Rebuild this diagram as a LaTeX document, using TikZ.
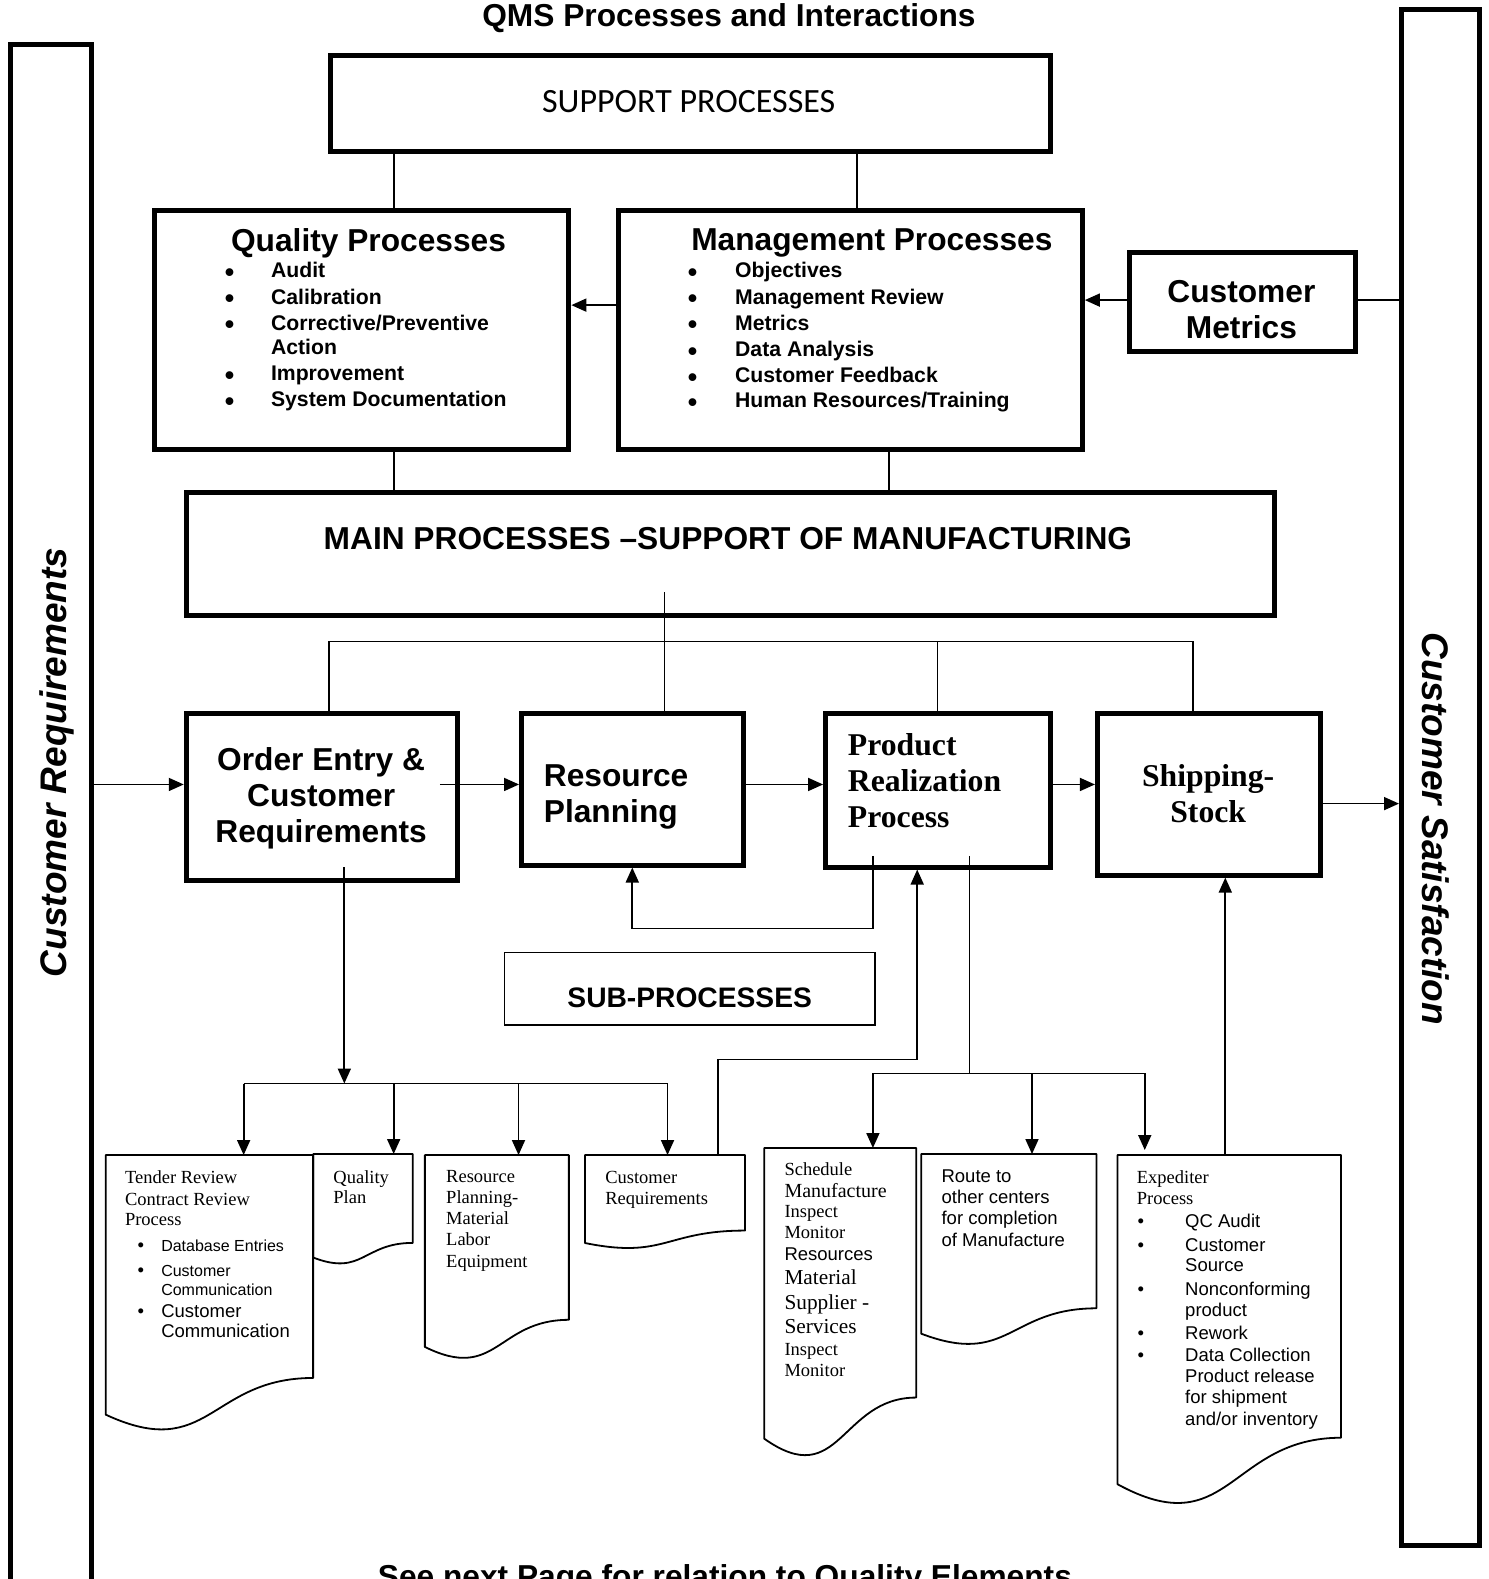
\documentclass[tikz,border=0pt]{standalone}
\usepackage{fontspec}
\setmainfont{Liberation Sans}
\newfontfamily\tnrfont{Liberation Serif}
\newfontfamily\calfont{Carlito}
\usetikzlibrary{arrows.meta,fit}
\newcommand\qmsdoc[5]{%
  \coordinate (#1) at ({(#2+#3)/2},#4);
  \draw[docline] (#2,#4) -- (#3,#4) -- (#3,{#4+0.802*#5})
    .. controls ({(#2+#3)/2},{#4+0.802*#5}) and ({(#2+#3)/2},{#4+1.107*#5}) ..
    (#2,{#4+0.934*#5}) -- cycle;}
\begin{document}
\begin{tikzpicture}[x=1.0068pt,y=-1.0070pt,
  bigbox/.style={draw, line width=5pt, inner sep=0pt, fit={#1}},
  thinbox/.style={draw, line width=1.6pt, inner sep=0pt, fit={#1}},
  conn/.style={line width=1.7pt},
  arr/.style={line width=1.7pt, -{Triangle[length=15pt,width=13pt]}},
  docline/.style={line width=1.8pt, line join=round},
  head/.style={font=\fontsize{31.7}{38}\selectfont\bfseries, inner sep=0pt, anchor=base},
  heads/.style={font=\tnrfont\fontsize{31.7}{38}\selectfont\bfseries, inner sep=0pt},
  side/.style={font=\fontsize{37}{44}\selectfont\bfseries\itshape, inner sep=0pt, anchor=base},
  item/.style={font=\fontsize{21.2}{25}\selectfont\bfseries, inner sep=0pt, anchor=base west},
  bul/.style={font=\fontsize{27}{30}\selectfont\bfseries, inner sep=0pt, anchor=base},
  dtr/.style={font=\tnrfont\fontsize{18.5}{22}\selectfont, inner sep=0pt, anchor=base west},
  dtrl/.style={font=\tnrfont\fontsize{21.3}{25}\selectfont, inner sep=0pt, anchor=base west},
  dar/.style={font=\fontsize{18.5}{22}\selectfont, inner sep=0pt, anchor=base west},
  dars/.style={font=\fontsize{16}{19}\selectfont, inner sep=0pt, anchor=base west},
  dbul/.style={font=\fontsize{18.5}{22}\selectfont, inner sep=0pt, anchor=base}
]
\fill[white] (0,0) rectangle (1478,1568);
\useasboundingbox (0,0) rectangle (1478,1568);

% title
\node[head] (title) at (724,26) {QMS Processes and Interactions};

% side bars
\node[bigbox={(10,44)(91,1620)}] (lbar) {};
\node[bigbox={(1392,9)(1469,1535)}] (rbar) {};
\node[side, rotate=90] (crq) at (66,757) {Customer Requirements};
\node[side, rotate=-90] (csat) at (1413,823) {Customer Satisfaction};

% support
\node[bigbox={(328,55)(1043,150)}] (sp) {};
\node[inner sep=0pt, anchor=base, font=\calfont\fontsize{34}{40}\selectfont] (sptx) at (684,112) {SUPPORT PROCESSES};

% quality processes
\node[bigbox={(153,209)(565,446)}] (qp) {};
\node[head] (qpt) at (366,250) {Quality Processes};
\foreach \t/\y [count=\i] in {Audit/276, Calibration/302, {Corrective/Preventive}/328, Action/352, Improvement/378, System Documentation/404}
  \node[item, name=qi\i] at (269,\y) {\t};
\foreach \y [count=\i] in {276,302,328,378,404}
  \node[bul, name=qb\i] at (228,\y+3.5) {•};

% management processes
\node[bigbox={(614,209)(1075,446)}] (mp) {};
\node[head] (mpt) at (866,249) {Management Processes};
\foreach \t/\y [count=\i] in {Objectives/276, Management Review/302, Metrics/328, Data Analysis/354, Customer Feedback/380, {Human Resources/Training}/405}
  \node[item, name=mi\i] at (730,\y) {\t};
\foreach \y [count=\i] in {276,302,328,354,380,405}
  \node[bul, name=mb\i] at (688,\y+3.5) {•};

% customer metrics
\node[bigbox={(1122,251)(1346,349)}] (cm) {};
\node[head] (cmt1) at (1233,300) {Customer};
\node[head] (cmt2) at (1233,336) {Metrics};

% top connectors
\draw[conn] (sp.south -| 391,0) -- (qp.north -| 391,0);
\draw[conn] (sp.south -| 851,0) -- (mp.north -| 851,0);
\draw[arr] (mp.west |- 0,303) -- (qp.east |- 0,303);
\draw[arr] (cm.west |- 0,298) -- (mp.east |- 0,298);
\draw[conn] (cm.east |- 0,298) -- (rbar.west |- 0,298);

% main
\node[bigbox={(185,489)(1266,611)}] (mn) {};
\node[head] (mnt) at (723,546) {MAIN PROCESSES –SUPPORT OF MANUFACTURING};
\draw[conn] (qp.south -| 391,0) -- (mn.north -| 391,0);
\draw[conn] (mp.south -| 883,0) -- (mn.north -| 883,0);

% process boxes
\node[bigbox={(185,709)(454,874)}] (oe) {};
\node[head] (oet1) at (319,765) {Order Entry \&};
\node[head] (oet2) at (319,801) {Customer};
\node[head] (oet3) at (319,837) {Requirements};
\node[bigbox={(518,709)(738,859)}] (rp) {};
\node[head, anchor=base west] (rpt1) at (540,781) {Resource};
\node[head, anchor=base west] (rpt2) at (540,817) {Planning};
\node[bigbox={(820,709)(1043,861)}] (pr) {};
\node[heads, anchor=base west] (prt1) at (842,750) {Product};
\node[heads, anchor=base west] (prt2) at (842,786) {Realization};
\node[heads, anchor=base west] (prt3) at (842,822) {Process};
\node[bigbox={(1090,709)(1312,869)}] (sh) {};
\node[heads, anchor=base] (sht1) at (1200,781) {Shipping-};
\node[heads, anchor=base] (sht2) at (1200,817) {Stock};

% bus from main
\coordinate (mnc) at (660,588);
\draw[conn] (mnc) -- (rp.north -| mnc);
\coordinate (busL) at (327,637);
\coordinate (busR) at (1185,637);
\draw[conn] (oe.north -| busL) -- (busL) -- (busR) -- (sh.north -| busR);
\draw[conn] (pr.north -| 931,0) -- (931,637);

% horizontal chain
\draw[arr] (lbar.east |- 0,779) -- (oe.west |- 0,779);
\coordinate (oeo) at (437,779);
\draw[arr] (oeo) -- (rp.west |- oeo);
\draw[arr] (rp.east |- oeo) -- (pr.west |- oeo);
\draw[arr] (pr.east |- oeo) -- (sh.west |- oeo);
\draw[arr] (sh.east |- 0,798) -- (rbar.west |- 0,798);

% feedback
\coordinate (prf) at (867,850);
\draw[arr] (prf) -- (867,922) -| (rp.south -| 628,0);

% sub-processes
\node[thinbox={(501,946)(869,1018)}] (sub) {};
\node[font=\fontsize{28.2}{34}\selectfont\bfseries, inner sep=0pt, anchor=base] (subt) at (685,1000) {SUB-PROCESSES};

% documents
\qmsdoc{d1}{105}{311}{1147}{276}
\qmsdoc{d2}{311}{410}{1146}{110}
\qmsdoc{d3}{422}{565}{1147}{204}
\qmsdoc{d4}{581}{740}{1147}{93.5}
\qmsdoc{d5}{759}{910}{1140}{309}
\qmsdoc{d6}{915}{1089}{1146}{191}
\qmsdoc{d7}{1110}{1332}{1147}{350}

% order entry branch
\coordinate (oed) at (342,861);
\draw[arr] (oed) -- (342,1076);
\draw[conn] (242,1076) -- (663,1076);
\draw[arr] (242,1076) -- (d1 -| 242,0);
\draw[arr] (391,1076) -- (d2 -| 391,0);
\draw[arr] (515,1076) -- (d3 -| 515,0);
\draw[arr] (663,1076) -- (d4 -| 663,0);
\draw[arr] (d4 -| 713,0) -- (713,1052) -| (pr.south -| 911,0);

% product realization branch
\coordinate (prd) at (963,850);
\draw[conn] (prd) -- (963,1066);
\draw[conn] (867,1066) -- (1137,1066);
\draw[arr] (867,1066) -- (d5 -| 867,0);
\draw[arr] (1025,1066) -- (d6 -| 1025,0);
\coordinate (d7a) at (1137,1142);
\draw[arr] (1137,1066) -- (d7a);
\draw[arr] (d7 -| 1217,0) -- (sh.south -| 1217,0);

% document texts
\foreach \t/\y [count=\i] in {Tender Review/1175, Contract Review/1197, Process/1217}
  \node[dtr, name=ta\i] at (124,\y) {\t};
\node[dars] (tb1) at (160,1243) {Database Entries};
\node[dars] (tb2) at (160,1268) {Customer};
\node[dars] (tb3) at (160,1286) {Communication};
\node[dar] (tb4) at (160,1308) {Customer};
\node[dar] (tb5) at (160,1328) {Communication};
\node[dbul] (tc1) at (140,1243) {•};
\node[dbul] (tc2) at (140,1268) {•};
\node[dbul] (tc3) at (140,1308) {•};

\node[dtr] (qa1) at (331,1175) {Quality};
\node[dtr] (qa2) at (331,1195) {Plan};

\foreach \t/\y [count=\i] in {Resource/1174, Planning-/1195, Material/1216, Labor/1237, Equipment/1259}
  \node[dtr, name=ra\i] at (443,\y) {\t};

\node[dtr] (ca1) at (601,1175) {Customer};
\node[dtr] (ca2) at (601,1196) {Requirements};

\node[dtr] (sa1) at (779,1167) {Schedule};
\node[dtr, font=\tnrfont\fontsize{20}{24}\selectfont] (sa2) at (779,1189) {Manufacture};
\node[dtr] (sa3) at (779,1209) {Inspect};
\node[dtr] (sa4) at (779,1230) {Monitor};
\node[dar] (sa5) at (779,1252) {Resources};
\node[dtrl] (sa6) at (779,1276) {Material};
\node[dtrl] (sa7) at (779,1300) {Supplier -};
\node[dtrl] (sa8) at (779,1324) {Services};
\node[dtr] (sa9) at (779,1346) {Inspect};
\node[dtr] (sa10) at (779,1367) {Monitor};

\foreach \t/\y [count=\i] in {Route to/1174, other centers/1195, for completion/1216, of Manufacture/1238}
  \node[dar, name=rt\i] at (935,\y) {\t};

\node[dtr] (ea1) at (1129,1175) {Expediter};
\node[dtr] (ea2) at (1129,1196) {Process};
\foreach \t/\y [count=\i] in {QC Audit/1219, Customer/1243, Source/1263, Nonconforming/1286, product/1307, Rework/1330, Data Collection/1352, Product release/1373, for shipment/1394, {and/or inventory}/1416}
  \node[dar, name=eb\i] at (1177,\y) {\t};
\foreach \y [count=\i] in {1219,1243,1286,1330,1352}
  \node[dbul, name=ec\i] at (1133,\y) {•};

% footer
\node[head] (foot) at (720,1576) {See next Page for relation to Quality Elements};
\end{tikzpicture}
\end{document}
